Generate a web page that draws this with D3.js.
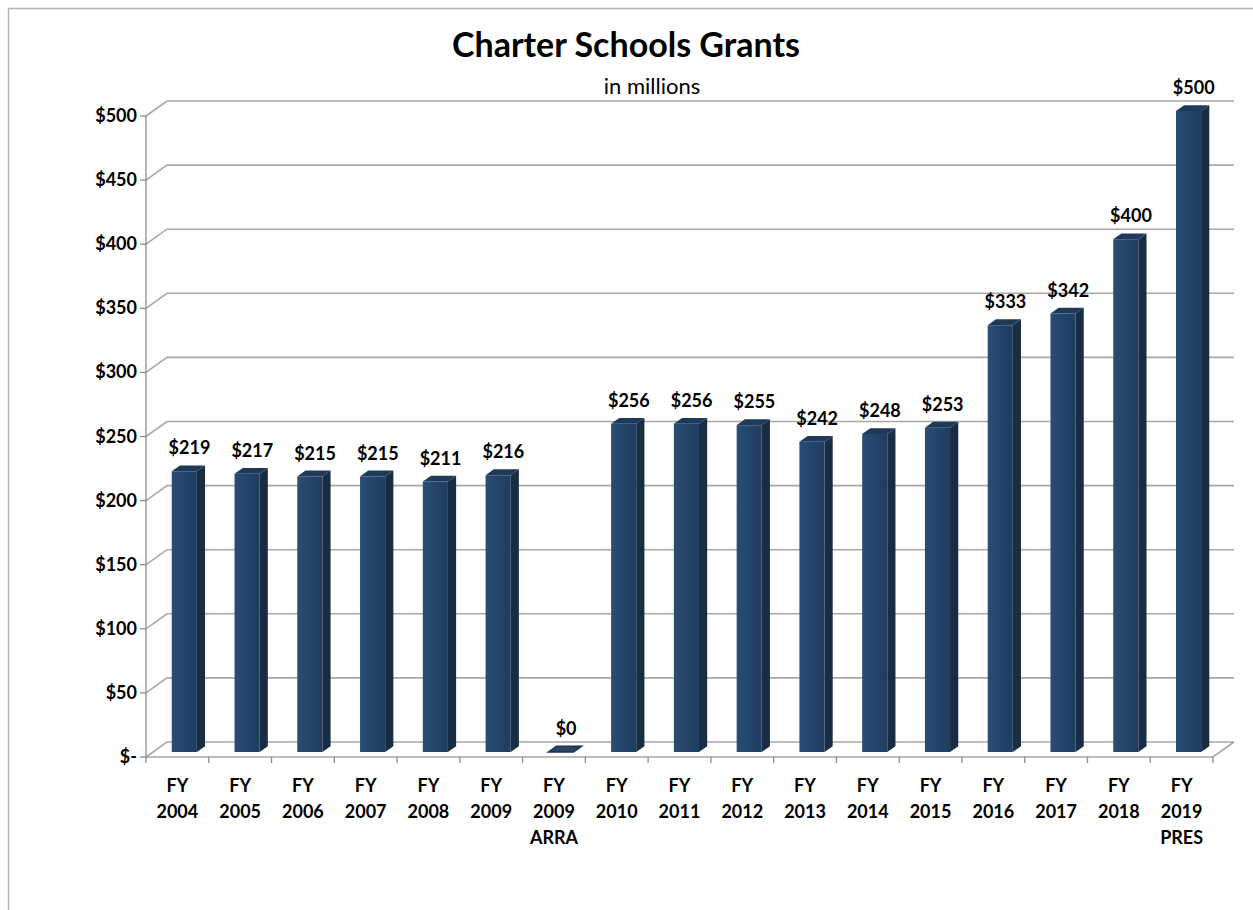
<!DOCTYPE html>
<html>
<head>
<meta charset="utf-8">
<script src="https://cdn.jsdelivr.net/npm/d3@7"></script>
<style>
  html, body { margin: 0; padding: 0; background: #fff; }
  svg { display: block; font-family: Lato, "Open Sans", "Liberation Sans", sans-serif; }
</style>
</head>
<body>
<svg id="chart" width="1253" height="910"></svg>
<script>
// Charter Schools Grants, $ millions by fiscal year
const categories = [
  ["FY", "2004"], ["FY", "2005"], ["FY", "2006"], ["FY", "2007"], ["FY", "2008"],
  ["FY", "2009"], ["FY", "2009", "ARRA"], ["FY", "2010"], ["FY", "2011"], ["FY", "2012"],
  ["FY", "2013"], ["FY", "2014"], ["FY", "2015"], ["FY", "2016"], ["FY", "2017"],
  ["FY", "2018"], ["FY", "2019", "PRES"]
];
const values = [219, 217, 215, 215, 211, 216, 0, 256, 256, 255, 242, 248, 253, 333, 342, 400, 500];
const valueLabels = ["$219", "$217", "$215", "$215", "$211", "$216", "$0", "$256", "$256", "$255",
                     "$242", "$248", "$253", "$333", "$342", "$400", "$500"];
const yTicks = [0, 50, 100, 150, 200, 250, 300, 350, 400, 450, 500];
const yTickLabels = ["$-", "$50", "$100", "$150", "$200", "$250", "$300", "$350", "$400", "$450", "$500"];

const svg = d3.select("#chart");
const keys = categories.map((c, i) => "c" + i);

// Front plane scales
const x = d3.scaleBand().domain(keys).range([146, 1213]).paddingInner(0).paddingOuter(0);
const y = d3.scaleLinear().domain([0, 500]).range([757, 116]);

// Oblique depth projection: depth 0 = front plane, 1 = back wall
const DX = 21, DY = -15;
const proj = (px, py, d) => [px + DX * d, py + DY * d];

// Outer chart frame (continues past the right and bottom edges)
svg.append("rect").attr("x", 8.5).attr("y", 8.5).attr("width", 1300).attr("height", 1000)
  .attr("fill", "#fff").attr("stroke", "#b3b3b3").attr("stroke-width", 1.5);

// Title
svg.append("text").attr("x", 626).attr("y", 57).attr("text-anchor", "middle")
  .attr("font-size", 34).attr("font-weight", 700).attr("fill", "#000")
  .text("Charter Schools Grants");
svg.append("text").attr("x", 652).attr("y", 94).attr("text-anchor", "middle")
  .attr("font-size", 22).attr("fill", "#000")
  .text("in millions");

const grid = svg.append("g").attr("fill", "none").attr("stroke", "#a8a8a8").attr("stroke-width", 1.6);
const x0 = x.range()[0], x1 = x.range()[1];

// Back-wall and side-wall gridlines
yTicks.forEach(v => {
  const a = [x0, y(v)], b = proj(x0, y(v), 1), c = proj(x1, y(v), 1);
  grid.append("path").attr("d", d3.line()([a, b, c]));
});

// Floor front edge and right edge
grid.append("path").attr("d", d3.line()([[x0, y(0)], [x1, y(0)], proj(x1, y(0), 1)]));

// Value axis line and ticks
const axisG = svg.append("g").attr("stroke", "#8c8c8c").attr("stroke-width", 1.3);
axisG.append("line").attr("x1", x0).attr("x2", x0).attr("y1", y(500)).attr("y2", y(0));
yTicks.forEach(v => {
  axisG.append("line").attr("x1", x0 - 6).attr("x2", x0).attr("y1", y(v)).attr("y2", y(v));
});
// Category ticks at band boundaries
keys.concat(["end"]).forEach((k, i) => {
  const xx = i < keys.length ? x(k) : x1;
  axisG.append("line").attr("x1", xx).attr("x2", xx).attr("y1", y(0)).attr("y2", y(0) + 6);
});

// Value axis labels
svg.append("g").selectAll("text").data(yTicks).join("text")
  .attr("x", 137).attr("y", v => y(v) + 6)
  .attr("text-anchor", "end").attr("font-size", 18).attr("font-weight", 700).attr("fill", "#000")
  .text((v, i) => yTickLabels[i]);

// Category labels
const catG = svg.append("g");
categories.forEach((lines, i) => {
  const cx = x(keys[i]) + x.bandwidth() / 2;
  lines.forEach((t, j) => {
    catG.append("text").attr("x", cx).attr("y", 792 + j * 26)
      .attr("text-anchor", "middle").attr("font-size", 18).attr("font-weight", 700).attr("fill", "#000")
      .text(t);
  });
});

// Bar gradients
const defs = svg.append("defs");
const gFront = defs.append("linearGradient").attr("id", "barFront").attr("x1", 0).attr("x2", 1).attr("y1", 0).attr("y2", 0);
gFront.append("stop").attr("offset", 0).attr("stop-color", "#2a4d74");
gFront.append("stop").attr("offset", 0.5).attr("stop-color", "#23436a");
gFront.append("stop").attr("offset", 1).attr("stop-color", "#203d60");

// 3-D bars: front face, right side face, top face
const dFront = 0.33, dBack = 0.72;
const barW = x.bandwidth() * 0.4;
const bars = svg.append("g");
values.forEach((v, i) => {
  const cx = x(keys[i]) + x.bandwidth() / 2;
  const l = cx - barW / 2, r = cx + barW / 2;
  const top = y(v), bot = y(0);
  const fl = proj(l, top, dFront), fr = proj(r, top, dFront);
  const bl = proj(l, top, dBack), br = proj(r, top, dBack);
  const frb = proj(r, bot, dFront), brb = proj(r, bot, dBack);
  const flb = proj(l, bot, dFront);
  if (v > 0) {
    bars.append("path").attr("d", d3.line()([fr, br, brb, frb]) + "Z").attr("fill", "#182c44");
    bars.append("path").attr("d", d3.line()([fl, fr, frb, flb]) + "Z").attr("fill", "url(#barFront)");
  }
  bars.append("path").attr("d", d3.line()([fl, bl, br, fr]) + "Z")
    .attr("fill", v > 0 ? "#1e3a5a" : "#2a4565")
    .attr("stroke", v > 0 ? "none" : "#1c3350").attr("stroke-width", v > 0 ? 0 : 1.5);
  // value label above bar
  const lp = proj(cx, top, dBack);
  bars.append("text").attr("x", lp[0] - 3).attr("y", lp[1] - 11)
    .attr("text-anchor", "middle").attr("font-size", 18).attr("font-weight", 700).attr("fill", "#000")
    .text(valueLabels[i]);
});
</script>
</body>
</html>
